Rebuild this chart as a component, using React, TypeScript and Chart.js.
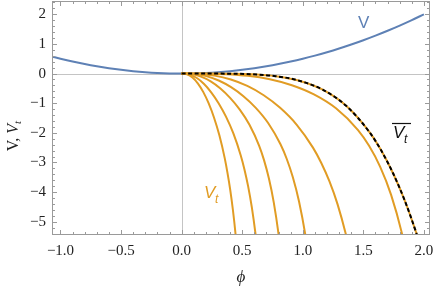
import React, { useEffect, useRef } from "react";
import { Chart, registerables } from "chart.js";
Chart.register(...registerables);

const xMin = -1.07;
const xMax = 2.05;
const yMin = -5.45;
const yMax = 2.45;
const xTicks = [-1, -0.5, 0, 0.5, 1, 1.5, 2];
const xTickLabels = ["−1.0", "−0.5", "0.0", "0.5", "1.0", "1.5", "2.0"];
const yTicks = [-5, -4, -3, -2, -1, 0, 1, 2];
const yTickLabels = ["−5", "−4", "−3", "−2", "−1", "0", "1", "2"];

const vPhi = [-1.07, -1.0, -0.9, -0.8, -0.7, -0.6, -0.5, -0.4, -0.3, -0.2, -0.1, 0, 0.1, 0.2, 0.3, 0.4, 0.5, 0.6, 0.7, 0.8, 0.9, 1.0, 1.1, 1.2, 1.3, 1.4, 1.5, 1.6, 1.7, 1.8, 1.9, 2.0];
const vVal = [0.572, 0.5, 0.405, 0.32, 0.245, 0.18, 0.125, 0.08, 0.045, 0.02, 0.005, 0, 0.005, 0.02, 0.045, 0.08, 0.125, 0.18, 0.245, 0.32, 0.405, 0.5, 0.605, 0.72, 0.845, 0.98, 1.125, 1.28, 1.445, 1.62, 1.805, 2.0];

const vt1Phi = [0, 0.0445, 0.089, 0.1335, 0.178, 0.2225, 0.267, 0.3115, 0.356, 0.378, 0.4005, 0.4228, 0.445, 0.458];
const vt1Val = [0, -0.027, -0.132, -0.328, -0.618, -1.0, -1.482, -2.086, -2.862, -3.343, -3.908, -4.589, -5.42, -6.01];
const vt2Phi = [0, 0.061, 0.122, 0.183, 0.244, 0.305, 0.366, 0.427, 0.488, 0.5185, 0.549, 0.5795, 0.61, 0.6283];
const vt2Val = [0, -0.03, -0.142, -0.344, -0.632, -1.0, -1.455, -2.022, -2.764, -3.237, -3.81, -4.52, -5.42, -6.08];
const vt3Phi = [0, 0.08, 0.16, 0.24, 0.32, 0.4, 0.48, 0.56, 0.64, 0.68, 0.72, 0.76, 0.8, 0.824];
const vt3Val = [0, -0.019, -0.102, -0.264, -0.505, -0.82, -1.216, -1.728, -2.441, -2.923, -3.536, -4.339, -5.42, -6.26];
const vt4Phi = [0, 0.102, 0.204, 0.306, 0.408, 0.51, 0.612, 0.714, 0.816, 0.867, 0.918, 0.969, 1.02, 1.0506];
const vt4Val = [0, -0.015, -0.087, -0.234, -0.46, -0.765, -1.156, -1.668, -2.387, -2.875, -3.499, -4.317, -5.42, -6.28];
const vt5Phi = [0, 0.1355, 0.271, 0.4065, 0.542, 0.6775, 0.813, 0.9485, 1.084, 1.1518, 1.2195, 1.2873, 1.355, 1.3957];
const vt5Val = [0, -0.011, -0.069, -0.2, -0.418, -0.732, -1.157, -1.722, -2.5, -3.009, -3.634, -4.417, -5.42, -6.16];
const vt6Phi = [0, 0.182, 0.364, 0.546, 0.728, 0.91, 1.092, 1.274, 1.456, 1.547, 1.638, 1.729, 1.82, 1.8746];
const vt6Val = [0, -0.002, -0.019, -0.074, -0.192, -0.393, -0.704, -1.174, -1.909, -2.44, -3.141, -4.094, -5.42, -6.48];
const vbarPhi = [0, 0.194, 0.388, 0.582, 0.776, 0.97, 1.164, 1.358, 1.552, 1.649, 1.746, 1.843, 1.94, 1.998];
const vbarVal = [0, 0, -0.004, -0.024, -0.088, -0.24, -0.544, -1.089, -1.986, -2.609, -3.373, -4.302, -5.42, -6.19];

const BLUE = "#5E81B5";
const ORANGE = "#E19C24";

const pts = (xs: number[], ys: number[]) => xs.map((x, i) => ({ x, y: ys[i] }));

const orangeSets = [
  [vt1Phi, vt1Val],
  [vt2Phi, vt2Val],
  [vt3Phi, vt3Val],
  [vt4Phi, vt4Val],
  [vt5Phi, vt5Val],
  [vt6Phi, vt6Val],
  [vbarPhi, vbarVal],
];

const framePlugin = {
  id: "mmaFrame",
  beforeDatasetsDraw(chart: any) {
    const { ctx, chartArea: a, scales } = chart;
    const x = scales.x;
    const y = scales.y;
    ctx.save();
    ctx.strokeStyle = "#c4c4c4";
    ctx.lineWidth = 1;
    const px = Math.round(x.getPixelForValue(0)) + 0.5;
    const py = Math.round(y.getPixelForValue(0)) + 0.5;
    ctx.beginPath();
    ctx.moveTo(px, a.top);
    ctx.lineTo(px, a.bottom);
    ctx.moveTo(a.left, py);
    ctx.lineTo(a.right, py);
    ctx.stroke();
    ctx.restore();
  },
  afterDatasetsDraw(chart: any) {
    const { ctx, chartArea: a, scales } = chart;
    const x = scales.x;
    const y = scales.y;
    ctx.save();
    ctx.strokeStyle = "#9a9a9a";
    ctx.lineWidth = 1;
    const L = Math.round(a.left) + 0.5;
    const R = Math.round(a.right) - 0.5;
    const T = Math.round(a.top) + 0.5;
    const B = Math.round(a.bottom) - 0.5;
    ctx.strokeRect(L, T, R - L, B - T);
    ctx.beginPath();
    for (let i = -11; i <= 21; i++) {
      const v = i / 10;
      if (v < xMin || v > xMax) continue;
      const major = i % 5 === 0;
      const len = major ? 4.5 : 2.5;
      const p = Math.round(x.getPixelForValue(v)) + 0.5;
      ctx.moveTo(p, B);
      ctx.lineTo(p, B - len);
      ctx.moveTo(p, T);
      ctx.lineTo(p, T + len);
    }
    for (let i = -27; i <= 12; i++) {
      const v = i / 5;
      if (v < yMin || v > yMax) continue;
      const major = i % 5 === 0;
      const len = major ? 4.5 : 2.5;
      const p = Math.round(y.getPixelForValue(v)) + 0.5;
      ctx.moveTo(L, p);
      ctx.lineTo(L + len, p);
      ctx.moveTo(R, p);
      ctx.lineTo(R - len, p);
    }
    ctx.stroke();

    // curve labels
    ctx.textBaseline = "alphabetic";
    ctx.textAlign = "left";
    ctx.fillStyle = BLUE;
    ctx.font = "17px 'Liberation Sans'";
    ctx.fillText("V", 358, 28);

    ctx.fillStyle = ORANGE;
    ctx.font = "italic 17px 'Liberation Sans'";
    ctx.fillText("V", 204, 198);
    ctx.font = "italic 12px 'Liberation Sans'";
    ctx.fillText("t", 215, 203);

    ctx.fillStyle = "#111";
    ctx.font = "italic 17px 'Liberation Sans'";
    ctx.fillText("V", 393, 138);
    ctx.font = "italic 12px 'Liberation Sans'";
    ctx.fillText("t", 404, 143);
    ctx.strokeStyle = "#111";
    ctx.lineWidth = 1.2;
    ctx.beginPath();
    ctx.moveTo(392, 123.5);
    ctx.lineTo(411, 123.5);
    ctx.stroke();

    // axis titles
    ctx.fillStyle = "#222";
    ctx.font = "italic 17px 'Liberation Serif'";
    ctx.textAlign = "center";
    ctx.fillText("ϕ", (a.left + a.right) / 2, 282);

    ctx.translate(18, 136);
    ctx.rotate(-Math.PI / 2);
    ctx.textAlign = "left";
    const f1 = "16px 'Liberation Serif'";
    const f2 = "italic 16px 'Liberation Serif'";
    const f3 = "italic 11px 'Liberation Serif'";
    ctx.font = f1;
    const w1 = ctx.measureText("V, ").width;
    ctx.font = f2;
    const w2 = ctx.measureText("V").width;
    ctx.font = f3;
    const w3 = ctx.measureText("t").width;
    let sx = -(w1 + w2 + w3) / 2;
    ctx.font = f1;
    ctx.fillText("V, ", sx, 0);
    sx += w1;
    ctx.font = f2;
    ctx.fillText("V", sx, 0);
    sx += w2;
    ctx.font = f3;
    ctx.fillText("t", sx, 3);
    ctx.restore();
  },
};

export default function App() {
  const ref = useRef<HTMLCanvasElement>(null);
  useEffect(() => {
    if (!ref.current) return;
    const datasets: any[] = [];
    datasets.push({
      data: pts(vbarPhi, vbarVal),
      borderColor: "#000",
      borderWidth: 2,
      borderDash: [4, 2.5],
      order: 0,
    });
    orangeSets.forEach(([xs, ys]) => {
      datasets.push({ data: pts(xs, ys), borderColor: ORANGE, borderWidth: 2, order: 1 });
    });
    datasets.push({ data: pts(vPhi, vVal), borderColor: BLUE, borderWidth: 2, order: 2 });
    datasets.forEach((d) => {
      d.showLine = true;
      d.pointRadius = 0;
      d.pointHoverRadius = 0;
      d.cubicInterpolationMode = "monotone";
      d.fill = false;
      d.clip = 0;
    });

    const chart = new Chart(ref.current, {
      type: "scatter",
      data: { datasets },
      options: {
        animation: false,
        responsive: false,
        devicePixelRatio: 1,
        events: [],
        layout: { padding: { top: 1, right: 7, left: 0, bottom: 0 } },
        plugins: { legend: { display: false }, tooltip: { enabled: false } },
        scales: {
          x: {
            type: "linear",
            min: xMin,
            max: xMax,
            afterBuildTicks: (s: any) => {
              s.ticks = xTicks.map((v) => ({ value: v }));
            },
            afterFit: (s: any) => {
              s.height = 53;
              s.paddingLeft = 0;
              s.paddingRight = 0;
            },
            ticks: {
              autoSkip: false,
              maxRotation: 0,
              padding: 7,
              color: "#222",
              font: { family: "'Liberation Serif'", size: 15 },
              callback: (v: any) => {
                const i = xTicks.findIndex((t) => Math.abs(t - Number(v)) < 1e-9);
                return i >= 0 ? xTickLabels[i] : "";
              },
            },
            grid: { display: false, drawTicks: false },
            border: { display: false },
          },
          y: {
            type: "linear",
            min: yMin,
            max: yMax,
            afterBuildTicks: (s: any) => {
              s.ticks = yTicks.map((v) => ({ value: v }));
            },
            afterFit: (s: any) => {
              s.width = 52;
              s.paddingTop = 0;
              s.paddingBottom = 0;
            },
            ticks: {
              autoSkip: false,
              padding: 6,
              color: "#222",
              font: { family: "'Liberation Serif'", size: 15 },
              callback: (v: any) => {
                const i = yTicks.findIndex((t) => Math.abs(t - Number(v)) < 1e-9);
                return i >= 0 ? yTickLabels[i] : "";
              },
            },
            grid: { display: false, drawTicks: false },
            border: { display: false },
          },
        },
      },
      plugins: [framePlugin],
    } as any);
    return () => chart.destroy();
  }, []);
  return (
    <div style={{ position: "absolute", left: 0, top: 0, width: 437, height: 288, background: "#fff" }}>
      <canvas ref={ref} width={437} height={288} style={{ width: 437, height: 288, display: "block" }} />
    </div>
  );
}
